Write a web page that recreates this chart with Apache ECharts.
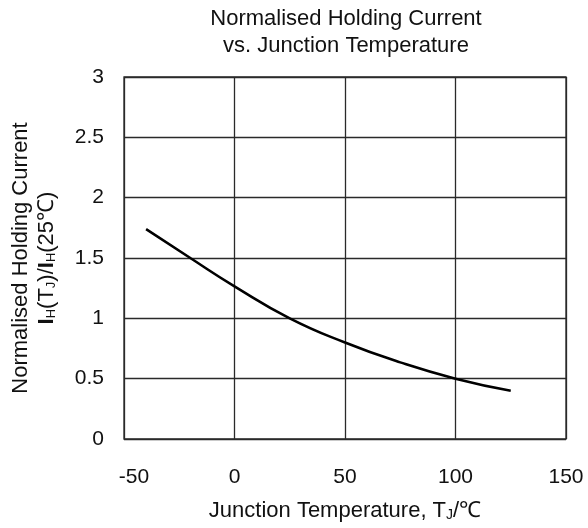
<!DOCTYPE html>
<html>
<head>
<meta charset="utf-8">
<script src="https://cdn.jsdelivr.net/npm/echarts@6/dist/echarts.min.js"></script>
<style>
html,body{margin:0;padding:0;background:#fff;}
#chart{width:588px;height:528px;}
</style>
</head>
<body>
<div id="chart"></div>
<script>
// Junction temperature (°C) and normalised holding current IH(TJ)/IH(25°C)
const temperatures = [-40, -20, 0, 25, 50, 75, 100, 125];
const holdingRatio = [1.74, 1.50, 1.265, 1.00, 0.80, 0.635, 0.50, 0.40];
const xTicks = { min: -50, max: 150, step: 50 };
const yTicks = { min: 0, max: 3, step: 0.5 };

const FONT = '"Liberation Sans", Arial, sans-serif';
const INK = '#111';
const GRIDC = '#2a2a2a';

const chart = echarts.init(document.getElementById('chart'), null, { renderer: 'canvas' });

chart.setOption({
  backgroundColor: '#fff',
  animation: false,
  title: {
    text: 'Normalised Holding Current\nvs. Junction Temperature',
    left: 341,
    textAlign: 'center',
    top: 0,
    textStyle: { fontFamily: FONT, fontSize: 22, fontWeight: 'normal', color: INK, lineHeight: 27 }
  },
  grid: {
    left: 123, right: 22, top: 77, bottom: 89,
    show: true, borderColor: GRIDC, borderWidth: 1.3, backgroundColor: 'transparent'
  },
  xAxis: {
    type: 'value',
    min: xTicks.min, max: xTicks.max, interval: xTicks.step,
    axisLine: { show: false },
    axisTick: { show: false },
    splitLine: { show: true, lineStyle: { color: GRIDC, width: 1.3 } },
    axisLabel: {
      margin: 28,
      fontFamily: FONT, fontSize: 21, color: INK,
      formatter: v => v === -50 ? '{s|-50}' : (v === 0 ? '{z|0}' : String(v)),
      rich: {
        s: { fontFamily: FONT, fontSize: 21, color: INK, padding: [0, 0, 0, 20] },
        z: { fontFamily: FONT, fontSize: 21, color: INK, padding: [0, 0, 8, 0] }
      }
    },
    name: '{t|Junction Temperature, T}{sub|J}{t|/℃}',
    nameLocation: 'middle',
    nameGap: 60,
    nameTextStyle: {
      rich: {
        t: { fontFamily: FONT, fontSize: 22, color: INK },
        sub: { fontFamily: FONT, fontSize: 14, color: INK, padding: [9, 0, 0, 0] }
      }
    }
  },
  yAxis: {
    type: 'value',
    min: yTicks.min, max: yTicks.max, interval: yTicks.step,
    axisLine: { show: false },
    axisTick: { show: false },
    splitLine: { show: true, lineStyle: { color: GRIDC, width: 1.3 } },
    axisLabel: { margin: 20, fontFamily: FONT, fontSize: 21, color: INK },
    name: '{t|Normalised Holding Current}\n{b|I}{sub|H}{t|(T}{sub|J}{t|)/}{b|I}{sub|H}{t|(25℃)}',
    nameLocation: 'middle',
    nameGap: 64,
    nameTextStyle: {
      lineHeight: 26,
      rich: {
        t: { fontFamily: FONT, fontSize: 22, color: INK, lineHeight: 26 },
        b: { fontFamily: FONT, fontSize: 22, fontWeight: 'bold', color: INK, lineHeight: 26 },
        sub: { fontFamily: FONT, fontSize: 13, color: INK, padding: [9, 0, 0, 0], lineHeight: 26 }
      }
    }
  },
  series: [{
    type: 'line',
    data: temperatures.map((t, i) => [t, holdingRatio[i]]),
    smooth: 0.5,
    showSymbol: false,
    lineStyle: { color: '#000', width: 2.6 }
  }]
});
</script>
</body>
</html>
